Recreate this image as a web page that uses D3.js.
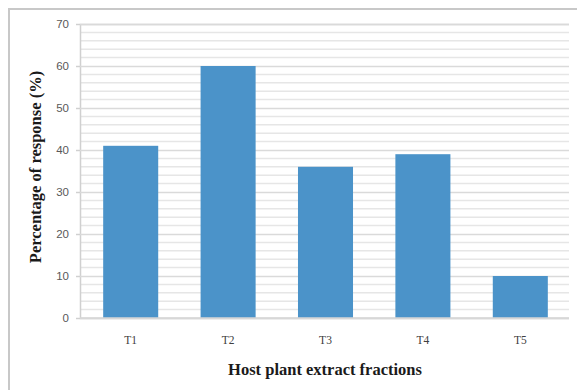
<!DOCTYPE html>
<html>
<head>
<meta charset="utf-8">
<script src="https://cdn.jsdelivr.net/npm/d3@7"></script>
<style>
  html, body { margin: 0; padding: 0; background: #fff; }
  svg { display: block; }
</style>
</head>
<body>
<svg id="chart" width="577" height="390"></svg>
<script>
// Response per host plant extract fraction
const categories = ["T1", "T2", "T3", "T4", "T5"];
const responses = [41, 60, 36, 39, 10];
const yTicks = [0, 10, 20, 30, 40, 50, 60, 70];
const yMinorStep = 2;

const svg = d3.select("#chart");
const W = 577, H = 390;
const plotLeft = 80, plotRight = 569, plotTop = 24, plotBottom = 318;

// outer frame (left and top edges)
svg.append("path")
  .attr("d", `M9,${H} L9,9 L${W},9`)
  .attr("fill", "none")
  .attr("stroke", "#c8c8c8")
  .attr("stroke-width", 2);

const x = d3.scaleBand().domain(categories).range([plotLeft + 2, plotRight])
  .paddingInner(0.435).paddingOuter(0.2175);
const y = d3.scaleLinear().domain([0, 70]).range([plotBottom, plotTop]);

// minor gridlines
const minor = d3.range(0, 70 + 0.001, yMinorStep).filter(v => v % 10 !== 0);
svg.append("g").selectAll("line").data(minor).join("line")
  .attr("x1", plotLeft).attr("x2", plotRight)
  .attr("y1", d => y(d)).attr("y2", d => y(d))
  .attr("stroke", "#e6e6e6").attr("stroke-width", 1.5);

// major gridlines + y axis
const yAxis = d3.axisLeft(y).tickValues(yTicks).tickSize(-(plotRight - plotLeft)).tickPadding(11);
const gy = svg.append("g").attr("transform", `translate(${plotLeft},0)`).call(yAxis);
gy.select(".domain").attr("stroke", "#d0d0d0").attr("stroke-width", 1.5);
gy.selectAll(".tick line").attr("stroke", "#dadada").attr("stroke-width", 1.5);
gy.selectAll(".tick text")
  .attr("fill", "#595959")
  .style("font-family", "'Liberation Sans', Arial, sans-serif")
  .style("font-size", "11.5px");
// small outer tick marks
gy.selectAll(".tick").append("line")
  .attr("x1", -4).attr("x2", 0)
  .attr("stroke", "#d0d0d0").attr("stroke-width", 1.5);

// bars
svg.append("g").selectAll("rect").data(categories).join("rect")
  .attr("x", d => x(d))
  .attr("width", x.bandwidth())
  .attr("y", (d, i) => y(responses[i]))
  .attr("height", (d, i) => y(0) - y(responses[i]))
  .attr("fill", "#4b93c9");

// x axis labels
const xAxis = d3.axisBottom(x).tickSize(0).tickPadding(18);
const gx = svg.append("g").attr("transform", `translate(0,${plotBottom})`).call(xAxis);
gx.select(".domain").attr("d", `M${plotLeft},0H${plotRight}`)
  .attr("stroke", "#d6d6d6").attr("stroke-width", 1.5);
gx.selectAll(".tick text")
  .attr("fill", "#404040")
  .style("font-family", "'Liberation Serif', 'Times New Roman', serif")
  .style("font-size", "11.5px");

// axis titles
svg.append("text")
  .attr("x", 325).attr("y", 375)
  .attr("text-anchor", "middle")
  .style("font-family", "'Liberation Serif', 'Times New Roman', serif")
  .style("font-weight", "bold")
  .style("font-size", "16.5px")
  .attr("fill", "#1a1a1a")
  .text("Host plant extract fractions");

svg.append("text")
  .attr("transform", "translate(41,167) rotate(-90)")
  .attr("text-anchor", "middle")
  .style("font-family", "'Liberation Serif', 'Times New Roman', serif")
  .style("font-weight", "bold")
  .style("font-size", "16.5px")
  .attr("fill", "#1a1a1a")
  .text("Percentage of response (%)");
</script>
</body>
</html>
